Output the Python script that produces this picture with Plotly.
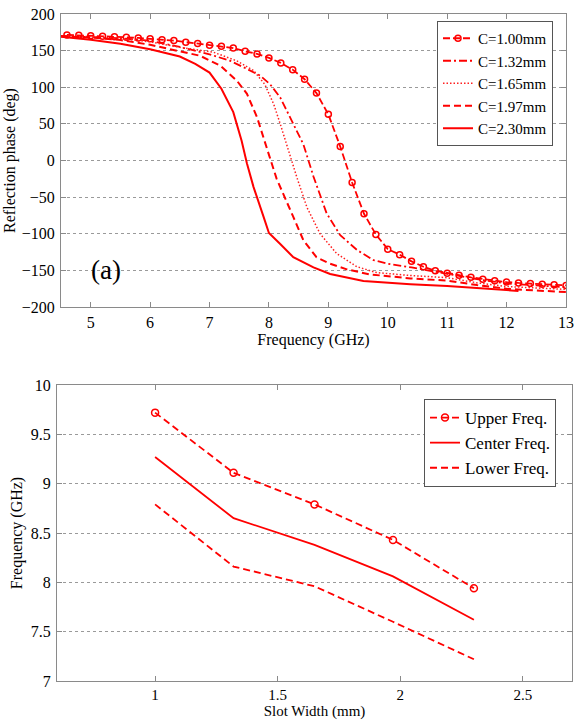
import plotly.graph_objects as go

W, H = 576, 720
RED = "#ff0000"
FONT = "'Liberation Serif', 'Times New Roman', Times, serif"

# ---------------- Reflection phase vs frequency (five slot widths) ----------------
freq_c100 = [4.6, 4.8, 5.0, 5.2, 5.4, 5.6, 5.8, 6.0, 6.2, 6.4, 6.6, 6.8, 7.0, 7.2, 7.4,
             7.6, 7.8, 8.0, 8.2, 8.4, 8.6, 8.8, 9.0, 9.2, 9.4, 9.6, 9.8, 10.0, 10.2,
             10.4, 10.6, 10.8, 11.0, 11.2, 11.4, 11.6, 11.8, 12.0, 12.2, 12.4, 12.6,
             12.8, 13.0]
phase_c100 = [171.5, 171, 170.3, 169.6, 169, 168.2, 167.4, 166.3, 165, 163.7, 161.6,
              159.6, 157.5, 156, 153.5, 149, 145.5, 140, 133.2, 124, 111, 92, 63, 19,
              -30, -72.7, -101, -121, -128.5, -137.7, -145, -150.5, -154, -156.5,
              -159.5, -162, -164, -166, -167.2, -168, -169, -169.5, -170.5]

freq_c132 = [4.5, 5.0, 5.5, 6.0, 6.5, 7.0, 7.35, 7.63, 7.85, 8.02, 8.19, 8.41, 8.58,
             8.75, 8.97, 9.2, 9.48, 9.76, 10.0, 10.4, 11.0, 11.5, 12.0, 12.5, 13.0]
phase_c132 = [170, 169, 167, 163.5, 155, 145, 136, 125, 116, 104, 86, 50, 22, -22,
              -72, -102, -122, -136, -141, -146, -154.5, -162, -168, -171, -173]

freq_c165 = [4.5, 5.0, 5.5, 6.0, 6.5, 7.06, 7.46, 7.74, 7.93, 8.08, 8.19, 8.3, 8.47,
             8.64, 8.86, 9.14, 9.48, 9.81, 10.38, 11.0, 11.5, 12.0, 12.5, 13.0]
phase_c165 = [170, 169, 166.5, 162, 154.5, 148, 136, 123, 104, 77, 50, 20, -23, -64,
              -100, -127, -145, -153, -157, -160, -167, -172, -174, -176]

freq_c197 = [4.5, 5.0, 5.5, 6.0, 6.5, 6.84, 7.18, 7.46, 7.63, 7.8, 7.96, 8.13, 8.41,
             8.58, 8.8, 9.03, 9.31, 9.7, 10.38, 11.0, 11.5, 12.0, 12.5, 13.0]
phase_c197 = [169.5, 168, 164.5, 158, 149, 143, 129.5, 109, 91, 59, 18, -25, -77,
              -109, -132, -141, -148.6, -155.5, -161, -164, -170, -175, -177.5, -179.5]

freq_c230 = [4.5, 5.0, 5.5, 6.0, 6.5, 6.76, 7.0, 7.2, 7.4, 7.54, 7.63, 7.74, 7.91,
             8.0, 8.19, 8.41, 8.75, 9.03, 9.59, 10.38, 11.0, 11.6, 12.2]
phase_c230 = [169, 165, 159.5, 152, 142, 132, 120, 98, 66, 27, -4, -36, -77, -99,
              -114, -132, -146, -155, -164.5, -169, -171.5, -175, -178]

phase_names = ["C=1.00mm", "C=1.32mm", "C=1.65mm", "C=1.97mm", "C=2.30mm"]

# ---------------- Band edges vs slot width ----------------
slot_width = [1.00, 1.32, 1.65, 1.97, 2.30]
upper_freq = [9.72, 9.11, 8.79, 8.43, 7.94]
center_freq = [9.27, 8.65, 8.38, 8.06, 7.62]
lower_freq = [8.79, 8.16, 7.96, 7.60, 7.22]
band_names = ["Upper Freq.", "Center Freq.", "Lower Freq."]

fig = go.Figure()

# top panel traces
fig.add_trace(go.Scatter(
    x=freq_c100, y=phase_c100, name=phase_names[0], mode="lines+markers",
    line=dict(color=RED, width=1.8, dash="7px,3px"),
    marker=dict(symbol="circle-open", size=6, color=RED, line=dict(width=1.5, color=RED)),
    xaxis="x", yaxis="y", legend="legend"))
fig.add_trace(go.Scatter(
    x=freq_c132, y=phase_c132, name=phase_names[1], mode="lines",
    line=dict(color=RED, width=1.8, dash="8px,3px,2px,3px"),
    xaxis="x", yaxis="y", legend="legend"))
fig.add_trace(go.Scatter(
    x=freq_c165, y=phase_c165, name=phase_names[2], mode="lines",
    line=dict(color="#ff2020", width=1.5, dash="1.5px,2px"),
    xaxis="x", yaxis="y", legend="legend"))
fig.add_trace(go.Scatter(
    x=freq_c197, y=phase_c197, name=phase_names[3], mode="lines",
    line=dict(color=RED, width=2, dash="7px,4px"),
    xaxis="x", yaxis="y", legend="legend"))
fig.add_trace(go.Scatter(
    x=freq_c230, y=phase_c230, name=phase_names[4], mode="lines",
    line=dict(color=RED, width=2),
    xaxis="x", yaxis="y", legend="legend"))

# bottom panel traces
fig.add_trace(go.Scatter(
    x=slot_width, y=upper_freq, name=band_names[0], mode="lines+markers",
    line=dict(color=RED, width=1.8, dash="7px,4px"),
    marker=dict(symbol="circle-open", size=7, color=RED, line=dict(width=1.5, color=RED)),
    xaxis="x2", yaxis="y2", legend="legend2"))
fig.add_trace(go.Scatter(
    x=slot_width, y=center_freq, name=band_names[1], mode="lines",
    line=dict(color=RED, width=1.8),
    xaxis="x2", yaxis="y2", legend="legend2"))
fig.add_trace(go.Scatter(
    x=slot_width, y=lower_freq, name=band_names[2], mode="lines",
    line=dict(color=RED, width=1.8, dash="7px,4px"),
    xaxis="x2", yaxis="y2", legend="legend2"))

AX_COLOR = "#8a8a8a"
tick_font = dict(family=FONT, size=16, color="black")
title_font = dict(family=FONT, size=16, color="black")
small_font = dict(family=FONT, size=15, color="black")

common = dict(
    showline=True, linecolor=AX_COLOR, linewidth=1, mirror="ticks",
    ticks="inside", ticklen=5, tickcolor=AX_COLOR, tickwidth=1,
    zeroline=False, automargin=False,
)
ygrid = dict(showgrid=True, gridcolor="#9a9a9a", gridwidth=1, griddash="dot")

px2x = lambda p: p / W
px2y = lambda p: 1 - p / H

fig.update_layout(
    width=W, height=H,
    margin=dict(l=0, r=0, t=0, b=0),
    paper_bgcolor="white", plot_bgcolor="white",
    font=dict(family=FONT, size=16, color="black"),
    xaxis=dict(domain=[px2x(61), px2x(566)], range=[4.5, 13], dtick=1, tick0=5,
               showgrid=False, anchor="y", ticklabelstandoff=1, tickfont=tick_font,
               title=dict(text="Frequency (GHz)", font=title_font, standoff=2),
               **common),
    yaxis=dict(domain=[px2y(307), px2y(14)], range=[-200, 200], dtick=50,
               anchor="x", ticklabelstandoff=2, tickfont=tick_font,
               title=dict(text="Reflection phase (deg)", font=title_font, standoff=2),
               **ygrid, **common),
    xaxis2=dict(domain=[px2x(57), px2x(572)], range=[0.6, 2.7], dtick=0.5, tick0=1,
                showgrid=False, anchor="y2", ticklabelstandoff=0, tickfont=small_font,
                title=dict(text="Slot Width (mm)", font=small_font, standoff=3),
                **common),
    yaxis2=dict(domain=[px2y(681), px2y(385)], range=[7, 10], dtick=0.5,
                anchor="x2", ticklabelstandoff=2, tickfont=tick_font,
                title=dict(text="Frequency (GHz)", font=title_font, standoff=4),
                **ygrid, **common),
    legend=dict(x=px2x(553), y=px2y(21), xanchor="right", yanchor="top",
                bgcolor="white", bordercolor="#555555", borderwidth=1,
                font=dict(family=FONT, size=15, color="black"),
                itemwidth=30, tracegroupgap=0),
    legend2=dict(x=px2x(556), y=px2y(399), xanchor="right", yanchor="top",
                 bgcolor="white", bordercolor="#555555", borderwidth=1,
                 font=dict(family=FONT, size=17, color="black"),
                 itemwidth=30, tracegroupgap=0),
    annotations=[dict(text="(a)", x=5.26, y=-149, xref="x", yref="y",
                      showarrow=False, font=dict(family=FONT, size=27, color="black"))],
)

fig.write_html("out.html")
